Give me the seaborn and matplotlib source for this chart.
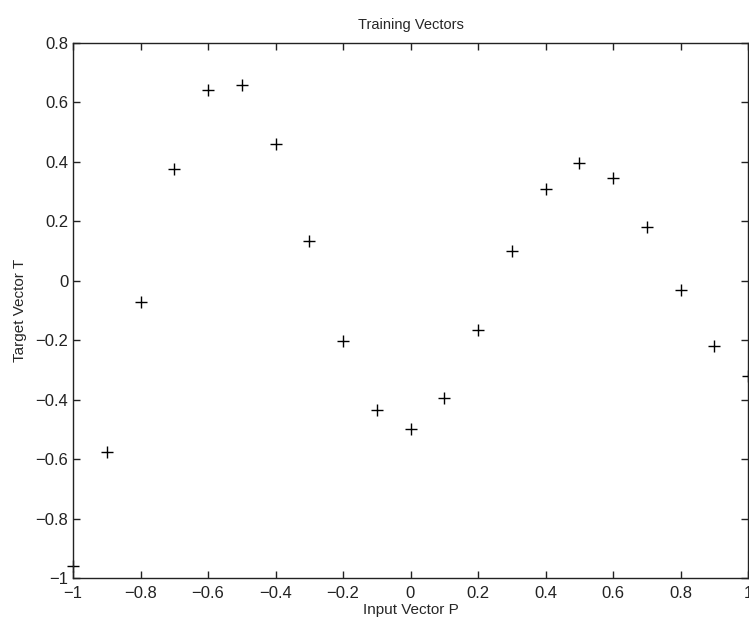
import numpy as np
import pandas as pd
import matplotlib
matplotlib.use("Agg")
import matplotlib.pyplot as plt
import seaborn as sns
from matplotlib.ticker import FuncFormatter, FixedLocator

P = [-1.0, -0.9, -0.8, -0.7, -0.6, -0.5, -0.4, -0.3, -0.2, -0.1, 0.0,
     0.1, 0.2, 0.3, 0.4, 0.5, 0.6, 0.7, 0.8, 0.9, 1.0]
T = [-0.9602, -0.5770, -0.0729, 0.3771, 0.6405, 0.6600, 0.4609, 0.1336,
     -0.2013, -0.4344, -0.5000, -0.3930, -0.1647, 0.0988, 0.3072, 0.3960,
     0.3449, 0.1816, -0.0312, -0.2189, -0.3201]
xticks = [-1, -0.8, -0.6, -0.4, -0.2, 0, 0.2, 0.4, 0.6, 0.8, 1]
yticks = [-1, -0.8, -0.6, -0.4, -0.2, 0, 0.2, 0.4, 0.6, 0.8]

sns.set_style("ticks")
plt.rcParams['font.family'] = ['Liberation Sans', 'DejaVu Sans']

df = pd.DataFrame({"P": P, "T": T})
fig = plt.figure(figsize=(7.49, 6.22), dpi=100)
ax = fig.add_axes([73/749, 44/622, 675/749, 535/622])
sns.scatterplot(data=df, x="P", y="T", marker="+", color="black", s=70,
                linewidth=1.0, ax=ax, clip_on=False, legend=False)
ax.set_xlim(-1, 1)
ax.set_ylim(-1, 0.8)
ax.xaxis.set_major_locator(FixedLocator(xticks))
ax.yaxis.set_major_locator(FixedLocator(yticks))
fmt = FuncFormatter(lambda v, p: ("%g" % round(v, 2)).replace("-", "\u2212"))
ax.xaxis.set_major_formatter(fmt)
ax.yaxis.set_major_formatter(fmt)
ax.tick_params(direction="in", top=True, right=True, length=5, width=1,
               labelsize=12, colors="#222222")
ax.tick_params(axis="x", pad=6)
ax.tick_params(axis="y", pad=3.5)
for s in ax.spines.values():
    s.set_visible(True)
    s.set_linewidth(1.0)
    s.set_color("#222222")
ax.set_title("Training Vectors", fontsize=10.5, pad=10)
ax.set_xlabel("Input Vector P", fontsize=11, labelpad=1)
ax.set_ylabel("Target Vector T", fontsize=11, labelpad=6)
fig.savefig("out.png", dpi=100)
